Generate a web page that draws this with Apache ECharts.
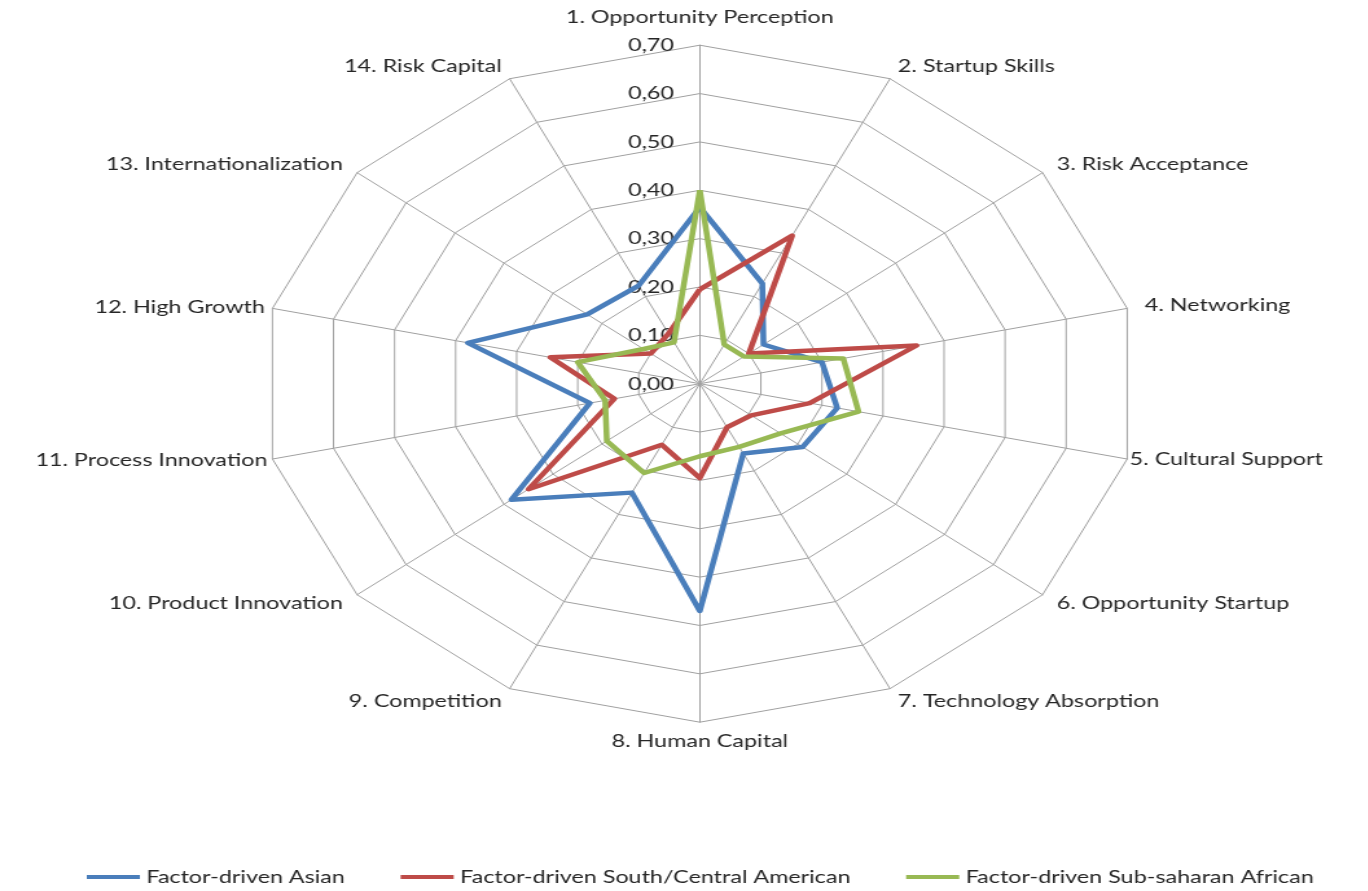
<!DOCTYPE html>
<html>
<head>
<meta charset="utf-8">
<title>GEDI pillars – factor-driven regions</title>
<script src="https://cdn.jsdelivr.net/npm/echarts@6/dist/echarts.min.js"></script>
<style>
  html, body { margin: 0; padding: 0; background: #fff; overflow: hidden; }
  /* the original plot is wider than tall, so the radar is stretched sideways */
  #chart { width: 1056px; height: 891px; transform: scaleX(1.295); transform-origin: 0 0; }
</style>
</head>
<body>
<div id="chart"></div>
<script>
// pillars, clockwise from the top
var pillars = [
  "1. Opportunity Perception", "2. Startup Skills", "3. Risk Acceptance",
  "4. Networking", "5. Cultural Support", "6. Opportunity Startup",
  "7. Technology Absorption", "8. Human Capital", "9. Competition",
  "10. Product Innovation", "11. Process Innovation", "12. High Growth",
  "13. Internationalization", "14. Risk Capital"
];
var seriesNames = [
  "Factor-driven Asian",
  "Factor-driven South/Central American",
  "Factor-driven Sub-saharan African"
];
var asian = [0.365, 0.23, 0.13, 0.20, 0.225, 0.21, 0.16, 0.47, 0.25, 0.385, 0.18, 0.38, 0.23, 0.225];
var southCentral = [0.195, 0.34, 0.10, 0.355, 0.18, 0.105, 0.10, 0.195, 0.14, 0.35, 0.14, 0.245, 0.10, 0.115];
var subSaharan = [0.40, 0.09, 0.09, 0.235, 0.26, 0.165, 0.145, 0.15, 0.205, 0.19, 0.155, 0.20, 0.115, 0.095];
var tickValues = [0, 0.1, 0.2, 0.3, 0.4, 0.5, 0.6, 0.7];

var colors = ["#4A7EBB", "#BE4B48", "#98B954"];
var font = "Lato";
var textColor = "#262626";
// distance of each pillar name from its spoke end (same order as pillars)
var nameGaps = [19, 14, 14, 14, 2, 14, 14, 10, 14, 14, 4, 6, 14, 14];

// echarts lays the indicators out counter-clockwise, so keep item 1 on top
// and walk the rest backwards
function clockwise(arr) {
  return [arr[0]].concat(arr.slice(1).reverse());
}

var chart = echarts.init(document.getElementById("chart"), null, { renderer: "canvas" });

var gapsCw = clockwise(nameGaps);
var indicators = clockwise(pillars).map(function (p, i) {
  var ind = { name: p, min: 0, max: tickValues[tickValues.length - 1], nameGap: gapsCw[i] };
  if (i === 0) ind.axisLabel = { show: true }; // scale labels only on the top spoke
  return ind;
});

var option = {
  animation: false,
  color: colors,
  legend: {
    left: 62,
    top: 863,
    width: 990,
    itemWidth: 41,
    itemHeight: 4,
    itemGap: 43,
    icon: "rect",
    textStyle: { fontFamily: font, fontSize: 18, color: textColor },
    data: seriesNames
  },
  radar: {
    center: [540.4, 383.7],
    radius: 338.5,
    startAngle: 90,
    splitNumber: tickValues.length - 1,
    shape: "polygon",
    indicator: indicators,
    axisNameGap: 14,
    axisName: { fontFamily: font, fontSize: 18, color: textColor },
    axisLine: { lineStyle: { color: "#a0a0a0", width: 1 } },
    splitLine: { lineStyle: { color: "#a0a0a0", width: 1 } },
    splitArea: { show: false },
    axisTick: { show: false },
    axisLabel: {
      show: false,
      fontFamily: font,
      fontSize: 18,
      color: textColor,
      margin: 20,
      formatter: function (v) { return Number(v).toFixed(2).replace(".", ","); }
    }
  },
  series: [{
    type: "radar",
    symbol: "none",
    data: [
      { name: seriesNames[0], value: clockwise(asian),
        itemStyle: { color: colors[0] }, lineStyle: { color: colors[0], width: 4.5 } },
      { name: seriesNames[1], value: clockwise(southCentral),
        itemStyle: { color: colors[1] }, lineStyle: { color: colors[1], width: 4.5 } },
      { name: seriesNames[2], value: clockwise(subSaharan),
        itemStyle: { color: colors[2] }, lineStyle: { color: colors[2], width: 4.5 } }
    ]
  }]
};

chart.setOption(option);
</script>
</body>
</html>
